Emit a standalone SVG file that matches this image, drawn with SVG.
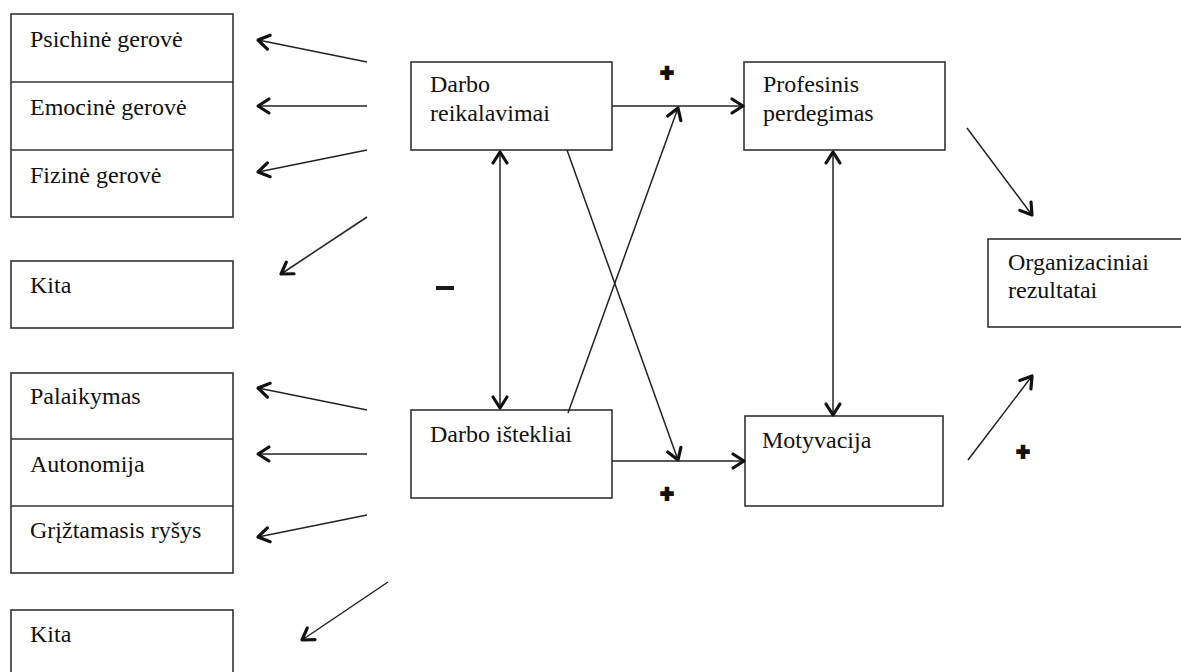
<svg xmlns="http://www.w3.org/2000/svg" width="1181" height="672" viewBox="0 0 1181 672">
<style>
.box{fill:#fff;stroke:#333;stroke-width:1.6}
.div{stroke:#333;stroke-width:1.6}
.t{font-family:'Liberation Serif','Times New Roman',Tinos,'Noto Serif','DejaVu Serif',serif;font-size:24px;fill:#111}
.c{stroke:#222;stroke-width:1.5;fill:none;marker-end:url(#ah)}
.cb{stroke:#222;stroke-width:1.5;fill:none;marker-end:url(#ah);marker-start:url(#ahs)}
.sg{font-family:'Liberation Sans',Arial,sans-serif;font-weight:bold;font-size:23px;fill:#111;stroke:#111;stroke-width:2;text-anchor:middle}
</style>
<defs>
<marker id="ah" markerUnits="userSpaceOnUse" markerWidth="30" markerHeight="30" viewBox="-15 -15 30 30" refX="0" refY="0" orient="auto">
<path d="M-11,-7 L0,0 L-11,7" fill="none" stroke="#111" stroke-width="3.2" stroke-linejoin="round" stroke-linecap="round"/>
</marker>
<marker id="ahs" markerUnits="userSpaceOnUse" markerWidth="30" markerHeight="30" viewBox="-15 -15 30 30" refX="0" refY="0" orient="auto-start-reverse">
<path d="M-11,-7 L0,0 L-11,7" fill="none" stroke="#111" stroke-width="3.2" stroke-linejoin="round" stroke-linecap="round"/>
</marker>
</defs>

<g id="stack1">
<rect class="box" x="11" y="14" width="222" height="203"/>
<line class="div" x1="11" y1="82" x2="233" y2="82" stroke-width="2.6"/>
<line class="div" x1="11" y1="150" x2="233" y2="150"/>
</g>
<g id="psichine"><text class="t" x="30" y="47">Psichinė gerovė</text></g>
<g id="emocine"><text class="t" x="30" y="115">Emocinė gerovė</text></g>
<g id="fizine"><text class="t" x="30" y="183">Fizinė gerovė</text></g>
<g id="kita1"><rect class="box" x="11" y="261" width="222" height="67"/><text class="t" x="30" y="293">Kita</text></g>

<g id="stack2">
<rect class="box" x="11" y="373" width="222" height="200"/>
<line class="div" x1="11" y1="439" x2="233" y2="439"/>
<line class="div" x1="11" y1="506" x2="233" y2="506"/>
</g>
<g id="palaikymas"><text class="t" x="30" y="404">Palaikymas</text></g>
<g id="autonomija"><text class="t" x="30" y="472">Autonomija</text></g>
<g id="griztamasis"><text class="t" x="30" y="538">Grįžtamasis ryšys</text></g>
<g id="kita2"><rect class="box" x="11" y="610" width="222" height="90"/><text class="t" x="30" y="642">Kita</text></g>

<g id="darbo-reikalavimai"><rect class="box" x="411" y="62" width="201" height="88"/><text class="t" x="430" y="92">Darbo</text><text class="t" x="430" y="121">reikalavimai</text></g>
<g id="profesinis"><rect class="box" x="744" y="62" width="201" height="88"/><text class="t" x="763" y="92">Profesinis</text><text class="t" x="763" y="121">perdegimas</text></g>
<g id="darbo-istekliai"><rect class="box" x="411" y="410" width="201" height="88"/><text class="t" x="430" y="442">Darbo ištekliai</text></g>
<g id="motyvacija"><rect class="box" x="745" y="416" width="198" height="90"/><text class="t" x="762" y="448">Motyvacija</text></g>
<g id="organizaciniai"><rect class="box" x="988" y="239" width="210" height="88"/><text class="t" x="1008" y="270">Organizaciniai</text><text class="t" x="1008" y="298">rezultatai</text></g>

<g id="connectors">
<line class="c" x1="367" y1="62" x2="258" y2="40"/>
<line class="c" x1="367" y1="106" x2="258" y2="106"/>
<line class="c" x1="367" y1="150" x2="258" y2="172"/>
<line class="c" x1="367" y1="217" x2="281" y2="274"/>
<line class="c" x1="367" y1="410" x2="258" y2="388"/>
<line class="c" x1="367" y1="454" x2="258" y2="454"/>
<line class="c" x1="367" y1="515" x2="258" y2="537"/>
<line class="c" x1="388" y1="582" x2="302" y2="640"/>
<line class="c" x1="612" y1="106" x2="743" y2="106"/>
<line class="c" x1="568" y1="413" x2="678" y2="108"/>
<line class="c" x1="567" y1="150" x2="678" y2="460"/>
<line class="c" x1="612" y1="461" x2="744" y2="461"/>
<line class="cb" x1="500" y1="152" x2="500" y2="408"/>
<line class="cb" x1="833" y1="152" x2="833" y2="415"/>
<line class="c" x1="967" y1="128" x2="1032" y2="215"/>
<line class="c" x1="968" y1="460" x2="1032" y2="376"/>
</g>

<g id="signs">
<text class="sg" x="667" y="81">+</text>
<text class="sg" x="667" y="502">+</text>
<text class="sg" x="1023" y="460">+</text>
<rect x="436" y="286" width="18" height="4" fill="#1a1a1a"/>
</g>
</svg>
